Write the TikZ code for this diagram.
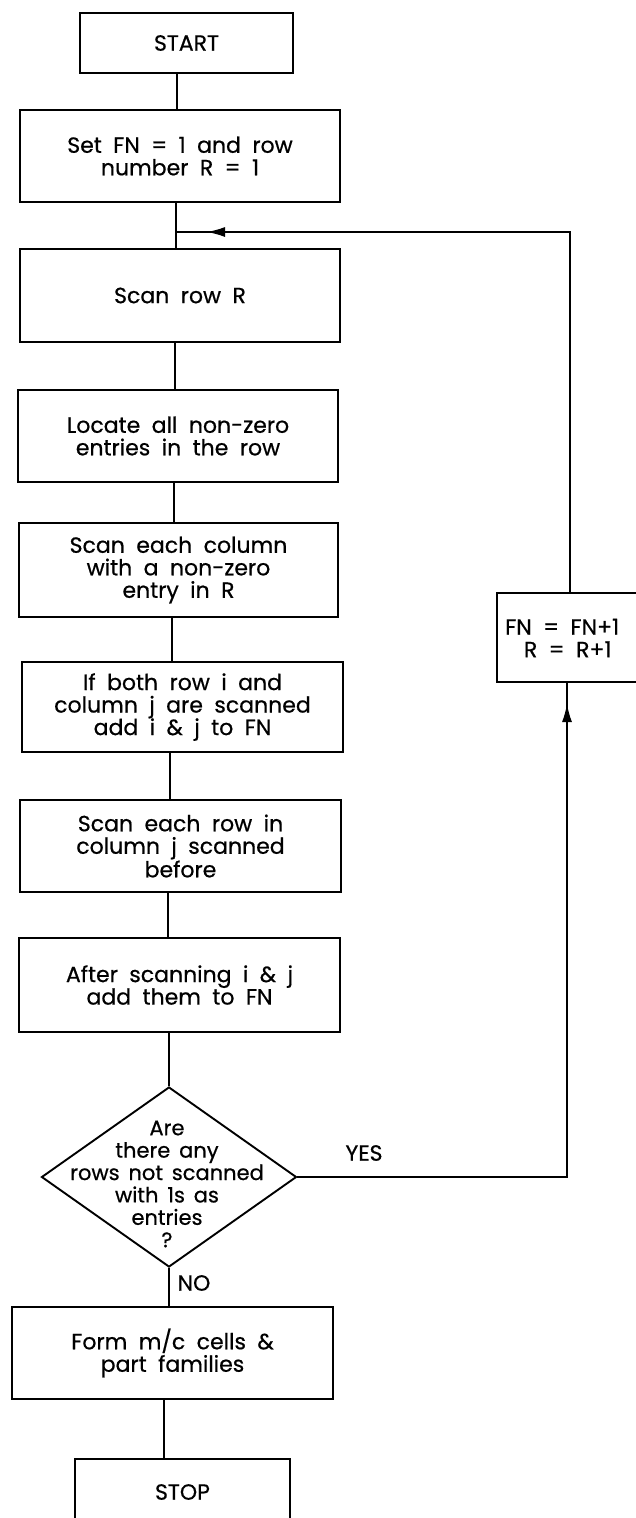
\documentclass[tikz,border=0pt]{standalone}
\usepackage{fontspec}
\setmainfont{Poppins}[FakeBold=0.6]
\usetikzlibrary{arrows.meta,shapes.geometric}

\newcommand{\flowfont}{\fontsize{22}{22.5}\selectfont\spaceskip=0.52em plus 0.1em}
\newcommand{\decfont}{\fontsize{21}{22.4}\selectfont\spaceskip=0.42em plus 0.1em}

\begin{document}
\begin{tikzpicture}[x=1pt,y=-1pt,
  box/.style={draw,line width=1.9pt,rectangle,inner sep=0pt,align=center,
    font=\flowfont},
  txt/.style={inner sep=0pt,align=center,font=\flowfont},
  conn/.style={line width=1.4pt},
  arr/.style={line width=1.4pt,-{Latex[length=18pt,width=10pt]}}]
\useasboundingbox (0,0) rectangle (636,1518);
\clip (0,0) rectangle (636,1518);

% process boxes
\node[box,minimum width=213pt,minimum height=60pt] (start) at (186.5,43) {START};
\node[box,minimum width=320pt,minimum height=92pt] (setfn) at (180,156)
  {Set FN = 1 and row\\number R = 1};
\node[box,minimum width=320pt,minimum height=93pt] (scanr) at (180,295.5) {Scan row R};
\node[box,minimum width=320pt,minimum height=92pt] (locate) at (178,436)
  {Locate all non-zero\\entries in the row};
\node[box,minimum width=319pt,minimum height=94pt] (scancol) at (178.5,570)
  {Scan each column\\with a non-zero\\entry in R};
\node[box,minimum width=321pt,minimum height=90pt] (ifboth) at (182.5,707)
  {If both row i and\\column j are scanned\\add i \& j to FN};
\node[box,minimum width=321pt,minimum height=92pt] (scanrow) at (180.5,846)
  {Scan each row in\\column j scanned\\before};
\node[box,minimum width=321pt,minimum height=94pt] (after) at (179.5,985)
  {After scanning i \& j\\add them to FN};

% decision
\node[draw,diamond,line width=1.9pt,inner sep=0pt,minimum width=255pt,
  minimum height=180pt] (dec) at (169,1177) {};
\node[txt,font=\decfont] (dectext) at (167,1184)
  {Are\\there any\\rows not scanned\\with 1s as\\entries\\?};

\node[box,minimum width=321pt,minimum height=92pt] (form) at (172.5,1353)
  {Form m/c cells \&\\part families};
\node[box,minimum width=215pt,minimum height=66pt] (stop) at (182.5,1492) {STOP};

% counter update on the loop back
\node[box,minimum width=163pt,minimum height=89pt] (inc) at (578.5,637.5) {};
\node[txt,anchor=west] (inctext) at (505,638) {FN = FN+1\\\phantom{F}R = R+1};

% labels of the two outcomes
\node[txt] (yes) at (364,1153) {YES};
\node[txt] (no) at (194,1283) {NO};

% spine of the main flow
\coordinate (xa) at (177,0);
\coordinate (xb) at (176,0);
\coordinate (xc) at (175,0);
\coordinate (xd) at (174,0);
\coordinate (xe) at (172,0);
\coordinate (xf) at (170,0);
\coordinate (xg) at (168,0);
\coordinate (xi) at (164,0);

\draw[conn] (start.south -| xa) -- (setfn.north -| xa);
\draw[conn] (setfn.south -| xb) -- (scanr.north -| xb);
\draw[conn] (scanr.south -| xc) -- (locate.north -| xc);
\draw[conn] (locate.south -| xd) -- (scancol.north -| xd);
\draw[conn] (scancol.south -| xe) -- (ifboth.north -| xe);
\draw[conn] (ifboth.south -| xf) -- (scanrow.north -| xf);
\draw[conn] (scanrow.south -| xg) -- (after.north -| xg);
\draw[conn] (after.south -| dec.north) -- (dec.north);
\draw[conn] (dec.south) -- (form.north -| dec.south);
\draw[conn] (form.south -| xi) -- (stop.north -| xi);

% loop: YES branch up through the counter box and back to the top
\coordinate (rx) at (567,0);
\coordinate (join) at (176,232);
\coordinate (corner) at (570,232);
\coordinate (tipa) at (207,232);
\coordinate (tipb) at (567,704);

\draw[conn] (dec.east) -- (dec.east -| rx) -- (inc.south -| rx);
\draw[arr] (dec.east -| rx) -- (tipb);
\draw[conn] (inc.north -| corner) -- (corner) -- (join);
\draw[arr] (corner) -- (tipa);
\end{tikzpicture}
\end{document}
